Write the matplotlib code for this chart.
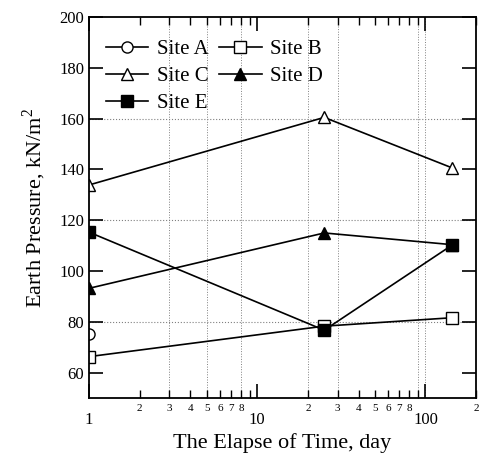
import matplotlib
matplotlib.use('Agg')
import matplotlib.pyplot as plt
import matplotlib.ticker as mticker
import numpy as np

plt.rcParams['font.family'] = ['Liberation Serif', 'DejaVu Serif']
plt.rcParams['mathtext.fontset'] = 'custom'
plt.rcParams['mathtext.rm'] = 'Liberation Serif'

# elapsed time, day
days = [1, 25, 143]

site_a = [75.3]
site_b = [66.3, 78.3, 81.6]
site_c = [133.9, 160.5, 140.7]
site_d = [93.2, 115.0, 110.4]
site_e = [115.3, 76.7, 110.1]

fig = plt.figure(figsize=(4.79, 4.62), dpi=100)
ax = fig.add_axes([0.186, 0.1385, 0.808, 0.8245])

kw = dict(color='black', lw=1.2, markersize=8)
hA, = ax.plot(days[:1], site_a, marker='o', mfc='white', label='Site A', **kw)
hB, = ax.plot(days, site_b, marker='s', mfc='white', label='Site B', **kw)
hC, = ax.plot(days, site_c, marker='^', mfc='white', label='Site C', **kw)
hD, = ax.plot(days, site_d, marker='^', mfc='black', label='Site D', **kw)
hE, = ax.plot(days, site_e, marker='s', mfc='black', label='Site E', **kw)

ax.set_xscale('log')
ax.set_xlim(1, 200)
ax.set_ylim(50, 200)

# sparse dotted grid like the scanned original
for gx in [3, 5, 8, 20, 30, 90, 100]:
    ax.axvline(gx, color='grey', ls=':', lw=0.7, zorder=0)
for gy in [80, 120, 160]:
    ax.axhline(gy, color='grey', ls=':', lw=0.8, zorder=0)

ax.set_yticks([60, 80, 100, 120, 140, 160, 180, 200])
ax.xaxis.set_major_locator(mticker.FixedLocator([1, 10, 100]))
ax.xaxis.set_major_formatter(mticker.FixedFormatter(['1', '10', '100']))
minor_x = [2, 3, 4, 5, 6, 7, 8, 9, 20, 30, 40, 50, 60, 70, 80, 90, 200]
minor_lab = ['2', '3', '4', '5', '6', '7', '8', '', '2', '3', '4', '5', '6', '7', '8', '', '2']
ax.xaxis.set_minor_locator(mticker.FixedLocator(minor_x))
ax.xaxis.set_minor_formatter(mticker.FixedFormatter(minor_lab))

ax.tick_params(axis='both', which='major', direction='in', length=10, width=1.2,
               top=True, right=True, labelsize=12)
ax.tick_params(axis='x', which='major', pad=10)
ax.tick_params(axis='x', which='minor', direction='in', length=6, width=1.0,
               top=True, labelsize=8, pad=4)
for s in ax.spines.values():
    s.set_linewidth(1.3)

ax.set_xlabel('The Elapse of Time, day', fontsize=16, labelpad=4)
ax.set_ylabel('Earth Pressure, kN/m$^2$', fontsize=16, labelpad=8)

ax.legend([hA, hC, hE, hB, hD], ['Site A', 'Site C', 'Site E', 'Site B', 'Site D'],
          ncol=2, loc='upper left', bbox_to_anchor=(0.0, 0.985), frameon=False,
          fontsize=15, handlelength=2.05, handletextpad=0.4, columnspacing=0.5,
          labelspacing=0.35, borderaxespad=0.4)

fig.savefig('out.png', dpi=100)
